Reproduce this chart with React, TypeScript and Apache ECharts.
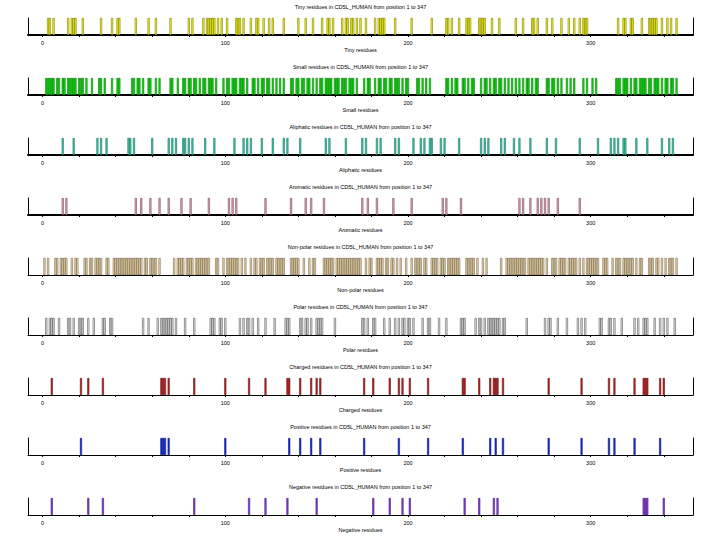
import React, { useEffect, useRef } from "react";
import * as echarts from "echarts";

const PROTEIN = "CD5L_HUMAN";
const SEQ_START = 1;
const SEQ_END = 347;
const PROPERTY_NAMES = ["Tiny", "Small", "Aliphatic", "Aromatic", "Non-polar", "Polar", "Charged", "Positive", "Negative"];
const X_LABEL_VALUES = [0, 100, 200, 300];
const X_TICK_VALUES = [0, 20, 40, 60, 80, 100, 120, 140, 160, 180, 200, 220, 240, 260, 280, 300, 320, 340];

const tinyResidues = [3,4,6,14,16,17,18,22,32,38,41,42,51,58,62,70,80,82,88,90,91,92,93,94,96,98,101,106,107,108,110,114,117,118,121,124,126,132,140,144,148,153,156,157,159,164,166,167,169,170,172,174,177,182,184,185,186,187,193,202,213,221,222,224,228,232,233,234,239,240,241,242,246,250,259,263,268,269,271,276,279,284,288,291,294,296,297,298,315,318,319,322,323,328,332,333,334,335,336,339,342,344,347];
const smallResidues = [2,3,4,5,6,8,9,11,12,14,15,16,17,18,20,21,22,24,27,31,32,34,38,41,42,49,50,52,53,55,58,59,62,64,70,71,74,77,78,80,81,83,84,86,88,89,91,92,93,95,99,101,102,104,105,106,108,109,110,112,115,116,118,120,121,123,124,126,128,130,132,136,137,139,140,142,143,145,146,148,150,152,153,155,156,157,158,160,161,162,164,165,166,168,169,170,172,176,178,179,182,184,185,187,188,190,191,193,194,195,197,199,200,205,206,208,210,212,221,222,224,226,227,230,231,233,235,236,240,242,243,245,247,248,250,251,253,255,257,259,261,263,265,266,268,270,271,276,277,279,280,282,284,287,289,291,296,298,301,303,314,315,316,318,319,320,322,324,325,327,328,329,330,332,333,335,336,337,339,341,342,344,345,347];
const aliphaticResidues = [11,17,30,32,35,47,48,50,60,69,71,73,77,78,80,82,89,94,105,110,112,114,120,126,132,134,141,155,157,166,175,177,183,185,193,195,203,207,209,212,213,218,220,228,240,242,244,251,253,258,261,267,276,281,294,304,311,313,315,318,319,325,331,339,343,345];
const aromaticResidues = [11,13,51,54,59,64,69,76,81,91,102,104,106,122,136,144,147,154,175,178,183,192,202,219,221,229,261,263,267,271,273,275,277,282,294];
const nonPolarResidues = [1,3,7,8,10,11,12,13,16,18,19,23,24,26,27,29,30,31,32,35,36,39,40,41,42,43,44,45,46,47,48,49,50,51,52,53,54,56,57,59,60,61,62,64,72,74,75,76,77,79,80,81,82,84,85,86,87,88,89,90,91,95,96,99,101,102,103,104,105,106,107,109,111,114,116,117,119,120,121,123,124,125,126,128,129,130,131,132,136,137,138,139,140,143,146,148,149,154,155,156,157,158,159,161,162,163,164,165,166,167,168,169,170,171,172,173,174,177,179,180,183,184,185,186,188,189,191,192,194,196,199,202,204,205,206,207,209,210,213,214,215,216,218,219,220,222,223,224,225,226,227,228,232,233,234,235,236,238,241,243,251,254,255,256,257,258,259,260,261,262,263,264,266,267,268,269,270,271,272,273,274,276,279,280,281,283,284,285,286,288,289,290,291,292,294,296,298,299,300,301,302,303,304,307,308,309,312,314,315,316,318,319,320,321,322,323,325,327,328,332,333,334,336,337,339,341,343,344,345,347];
const polarResidues = [2,4,5,6,9,14,15,17,20,21,22,25,28,33,34,37,38,55,58,63,65,66,67,68,69,70,71,73,78,83,92,93,94,97,98,100,108,110,112,113,115,118,122,127,133,134,135,141,142,144,145,147,150,151,152,153,160,175,176,178,181,182,187,190,193,195,197,198,200,201,203,208,211,212,217,221,229,230,231,237,239,240,242,244,245,246,247,248,249,250,252,253,265,275,277,278,282,287,293,295,297,305,306,310,311,313,317,324,326,329,330,331,335,338,340,342,346];
const chargedResidues = [5,21,25,33,65,66,67,69,83,100,113,122,134,135,141,147,150,152,176,181,190,195,197,201,211,230,231,239,245,247,248,249,252,277,295,310,313,324,329,330,331,338,340];
const positiveResidues = [21,65,66,67,69,100,135,141,147,152,176,195,211,230,245,248,252,277,295,310,313,324,338];
const negativeResidues = [5,25,33,83,113,122,134,150,181,190,197,201,231,239,247,249,329,330,331,340];

const RESIDUE_LISTS = [tinyResidues, smallResidues, aliphaticResidues, aromaticResidues, nonPolarResidues, polarResidues, chargedResidues, positiveResidues, negativeResidues];
const BAR_COLORS = ["#ffff00", "#00ee00", "#38d0b0", "#e8a8b8", "#f5dfb0", "#e8e8e8", "#d02020", "#1030ff", "#9040f0"];
const BAR_EDGES = ["#5a5a00", "#005a00", "#0e5a4a", "#5a3040", "#5a4a30", "#3a3a3a", "#400808", "#000050", "#2a0850"];

const FONT = "Liberation Sans, Arial, sans-serif";
const FS = 5.5;

export default function App() {
  const ref = useRef<HTMLDivElement>(null);
  useEffect(() => {
    if (!ref.current) return;
    const chart = echarts.init(ref.current, null, { renderer: "svg" });
    const panelH = 60;
    const plotLeft = 28;
    const plotRight = 693;
    const grids: any[] = [];
    const xAxes: any[] = [];
    const yAxes: any[] = [];
    const series: any[] = [];
    const graphics: any[] = [];
    PROPERTY_NAMES.forEach((name, i) => {
      const top = i * panelH;
      grids.push({ left: plotLeft, right: 702 - plotRight, top: top + 18, height: 17 });
      xAxes.push({
        type: "value",
        gridIndex: i,
        min: -8,
        max: 356,
        name: `${name} residues`,
        nameLocation: "middle",
        nameGap: 12,
        nameTextStyle: { fontSize: FS, color: "#000", fontFamily: FONT },
        axisLine: { show: true, onZero: false, lineStyle: { color: "#000", width: i < 4 ? 2 : 1 } },
        axisTick: { show: true, customValues: X_TICK_VALUES, length: 2, lineStyle: { color: "#000", width: 1 } },
        axisLabel: { show: true, customValues: X_LABEL_VALUES, fontSize: FS, margin: 5, color: "#000", fontFamily: FONT },
        splitLine: { show: false },
      });
      ["left", "right"].forEach((pos) => {
        yAxes.push({
          type: "value",
          gridIndex: i,
          min: 0,
          max: 1,
          position: pos,
          axisLine: { show: true, onZero: false, lineStyle: { color: "#000", width: 1 } },
          axisTick: { show: false },
          axisLabel: { show: false },
          splitLine: { show: false },
        });
      });
      series.push({
        type: "bar",
        xAxisIndex: i,
        yAxisIndex: 2 * i,
        data: RESIDUE_LISTS[i].map((r) => [r, 1]),
        barWidth: 2,
        itemStyle: { color: BAR_COLORS[i], borderColor: BAR_EDGES[i], borderWidth: 0.5 },
        silent: true,
      });
      graphics.push({
        type: "text",
        x: (plotLeft + plotRight) / 2,
        y: top + 7,
        style: {
          text: `${name} residues in ${PROTEIN} from position ${SEQ_START} to ${SEQ_END}`,
          align: "center",
          verticalAlign: "middle",
          fontSize: FS,
          fill: "#000",
          fontFamily: FONT,
        },
      });
    });
    chart.setOption({
      animation: false,
      backgroundColor: "#fff",
      textStyle: { fontFamily: FONT },
      grid: grids,
      xAxis: xAxes,
      yAxis: yAxes,
      series,
      graphic: graphics,
    });
    return () => chart.dispose();
  }, []);
  return <div ref={ref} style={{ position: "absolute", left: 0, top: 0, width: 702, height: 541 }} />;
}
